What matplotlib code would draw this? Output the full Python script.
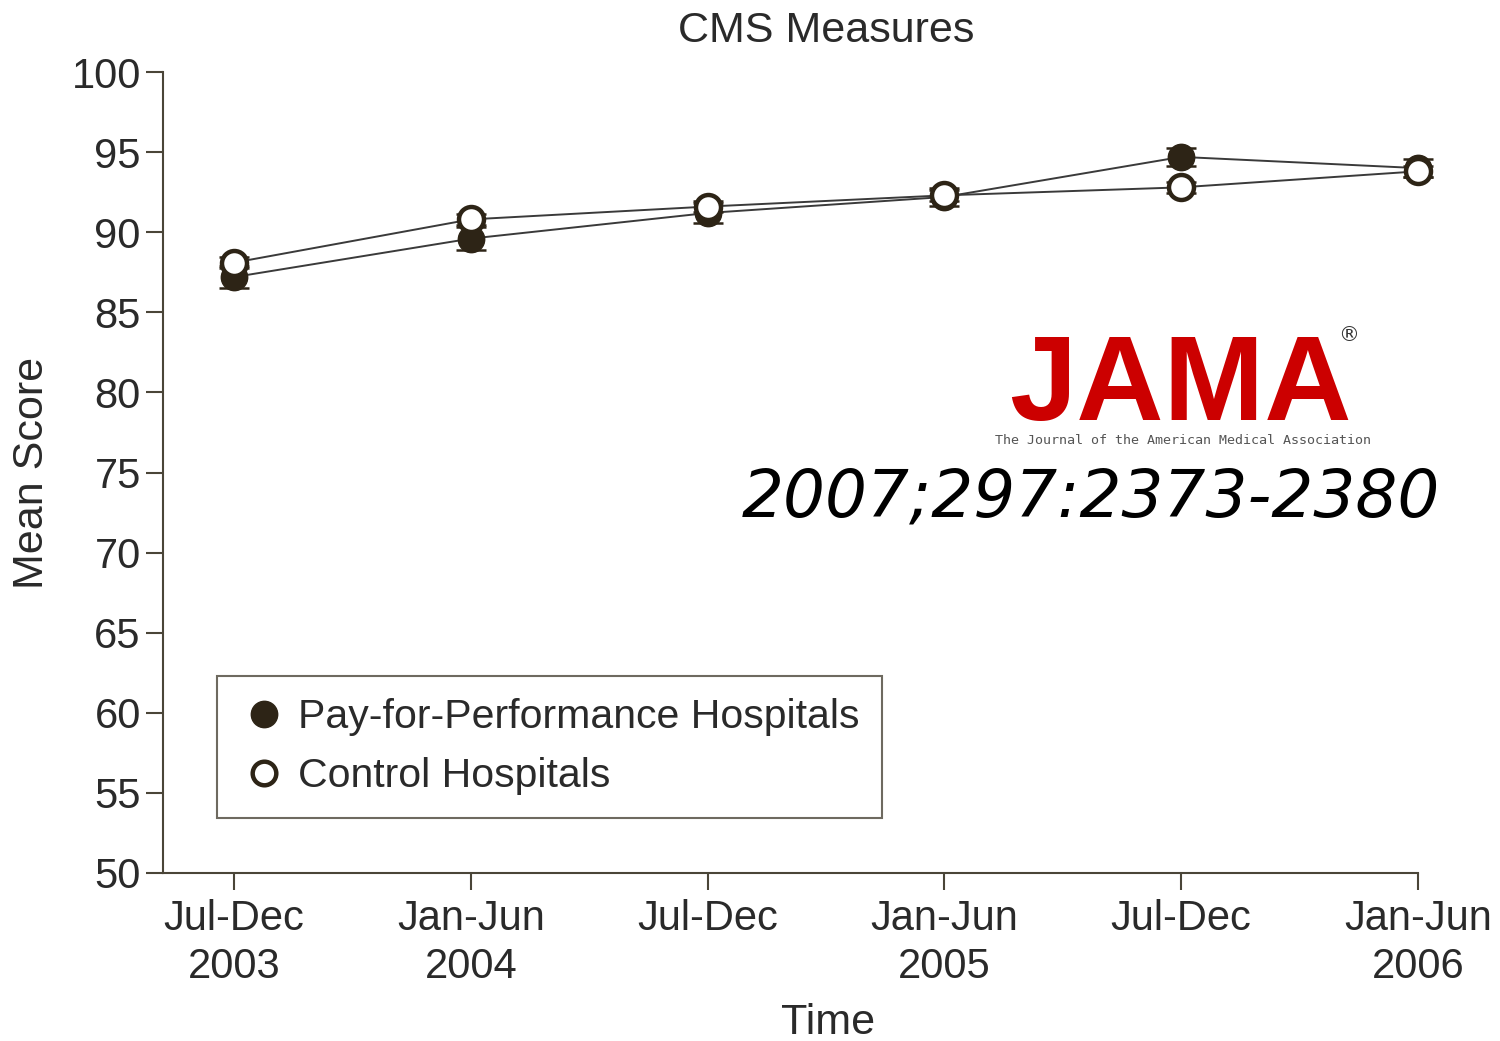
import numpy as np
import matplotlib
matplotlib.use("Agg")
import matplotlib.pyplot as plt
from matplotlib.lines import Line2D

# data
periods = ["Jul-Dec\n2003", "Jan-Jun\n2004", "Jul-Dec", "Jan-Jun\n2005", "Jul-Dec", "Jan-Jun\n2006"]
p4p_mean = [87.2, 89.6, 91.2, 92.2, 94.7, 94.0]
p4p_err = [0.7, 0.7, 0.6, 0.55, 0.55, 0.55]
ctrl_mean = [88.1, 90.8, 91.6, 92.3, 92.8, 93.8]
ctrl_err = [0.35, 0.35, 0.35, 0.35, 0.35, 0.35]
yticks = list(range(50, 101, 5))

dark = "#2d2416"
axis_col = "#4a4538"
text_col = "#2a2a2a"

plt.rcParams["font.family"] = ["Liberation Sans", "DejaVu Sans"]

fig = plt.figure(figsize=(15, 10.41), dpi=100)
ax = fig.add_axes([163 / 1500, 1 - 873 / 1041, (1418 - 163) / 1500, (873 - 72) / 1041])

x = np.arange(len(periods))

# pay-for-performance (filled)
eb = ax.errorbar(x, p4p_mean, yerr=p4p_err, fmt="none", ecolor=dark,
                 elinewidth=1.5, capsize=11, capthick=1.8, zorder=2)
for art in eb.lines[1] + eb.lines[2]:
    art.set_clip_on(False)
ax.plot(x, p4p_mean, color="#3a3a3a", lw=1.4, marker="o", ms=19,
        mfc=dark, mec=dark, zorder=3, clip_on=False)

# control (open)
eb = ax.errorbar(x, ctrl_mean, yerr=ctrl_err, fmt="none", ecolor=dark,
                 elinewidth=1.5, capsize=11, capthick=1.8, zorder=4)
for art in eb.lines[1] + eb.lines[2]:
    art.set_clip_on(False)
ax.plot(x, ctrl_mean, color="#3a3a3a", lw=1.4, marker="o", ms=18,
        mfc="white", mec=dark, mew=3.2, zorder=5, clip_on=False)

ax.set_xlim(-0.3, 5)
ax.set_ylim(50, 100)
ax.set_yticks(yticks)
ax.set_xticks(x)
ax.set_xticklabels(periods, linespacing=1.25)

for s in ["top", "right"]:
    ax.spines[s].set_visible(False)
for s in ["left", "bottom"]:
    ax.spines[s].set_color(axis_col)
    ax.spines[s].set_linewidth(1.5)

ax.tick_params(direction="out", length=12, width=1.5, color=axis_col,
               labelsize=30, labelcolor=text_col, pad=4)
ax.tick_params(axis="x", pad=7)

fig.text(826 / 1500, 1 - 31 / 1041, "CMS Measures", fontsize=31,
         color=text_col, ha="center", va="center")
fig.text(32 / 1500, 1 - 473 / 1041, "Mean Score", fontsize=31,
         color=text_col, ha="center", va="center", rotation=90)
fig.text(828 / 1500, 1 - 1023 / 1041, "Time", fontsize=31,
         color=text_col, ha="center", va="center")

handles = [
    Line2D([], [], ls="none", marker="o", ms=19, mfc=dark, mec=dark),
    Line2D([], [], ls="none", marker="o", ms=17, mfc="white", mec=dark, mew=3.2),
]
leg = ax.legend(handles, ["Pay-for-Performance Hospitals", "Control Hospitals"],
                loc="upper left", bbox_to_anchor=(0.043, 0.246), borderaxespad=0,
                fontsize=29.5, frameon=True, fancybox=False, borderpad=0.55,
                handlelength=1.2, handletextpad=0.22, labelspacing=0.5)
leg.get_frame().set_edgecolor(axis_col)
leg.get_frame().set_linewidth(1.5)
for t in leg.get_texts():
    t.set_color(text_col)

# journal logo and citation
fig.text(1009 / 1500, 1 - 420 / 1041, "JAMA", fontsize=87, fontweight="bold",
         color="#cc0000", ha="left", va="baseline")
fig.text(1349 / 1500, 1 - 335 / 1041, "\u00ae", fontsize=15, color="#333333",
         ha="center", va="center", family="DejaVu Sans")
fig.text(1183 / 1500, 1 - 441 / 1041, "The Journal of the American Medical Association",
         fontsize=9.6, color="#555555", ha="center", va="center", family="DejaVu Sans Mono")
fig.text(742 / 1500, 1 - 517 / 1041, "2007;297:2373-2380", fontsize=47.5,
         style="italic", color="black", ha="left", va="baseline", family="DejaVu Sans")

fig.savefig("out.png", dpi=100)
